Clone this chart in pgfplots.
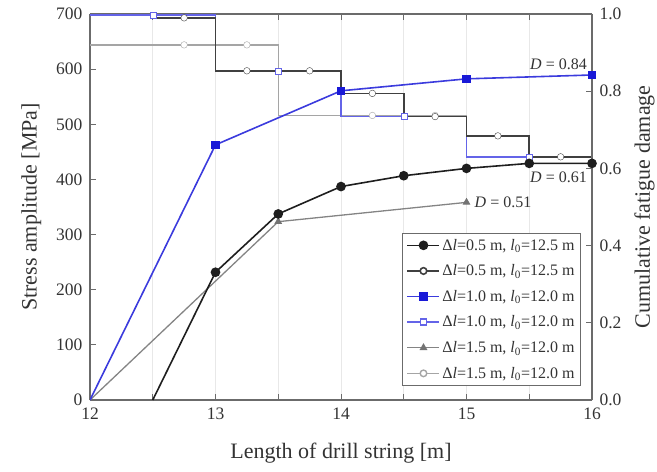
\documentclass[border=0pt]{standalone}
\usepackage{pgfplots}
\pgfplotsset{compat=1.18}
\usepackage{fontspec}
\setmainfont{Liberation Serif}

\definecolor{frame}{gray}{0.42}
\definecolor{dblue}{RGB}{25,25,215}
\definecolor{lblue}{RGB}{100,100,232}
\definecolor{dgrey}{RGB}{115,115,115}
\definecolor{lgrey}{RGB}{165,165,165}
\definecolor{dark}{RGB}{30,30,30}

\pgfplotsset{
  common/.style={
    width=502pt, height=386pt, scale only axis,
    xmin=12, xmax=16,
    tick align=inside,
    major tick length=6pt, minor tick length=6pt,
    axis line style={frame, line width=1.1pt},
    every tick/.style={frame, line width=0.9pt},
    tick label style={font=\fontsize{17.5}{20}\selectfont, text=black!80},
    label style={font=\fontsize{22}{24}\selectfont, text=black!80},
    /pgf/number format/assume math mode=true,
  },
  legend image code/.code={
    \draw[mark repeat=2, mark phase=2, #1] plot coordinates {(0pt,0pt) (16pt,0pt) (32pt,0pt)};
  },
}

\begin{document}
\begin{tikzpicture}
% stress amplitude (left axis): step curves
\begin{axis}[common, name=ax,
  ymin=0, ymax=700, ytick={0,100,...,700},
  axis y line*=left,
  xtick={12,13,14,15,16}, minor x tick num=1,
  xmajorgrids, xminorgrids,
  major grid style={black!9, line width=0.8pt},
  minor grid style={black!9, line width=0.8pt},
  yticklabel style={xshift=-4pt},
  xticklabel style={yshift=-4pt},
  xlabel={Length of drill string [m]},
  ylabel={Stress amplitude [MPa]},
  xlabel shift=17pt, ylabel shift=8pt,
]
% dl=1.5, l0=12.0
\addplot[const plot, lgrey, line width=1.4pt, forget plot]
  coordinates {(12,644) (13.5,516) (15,516)};
\addplot[only marks, mark=*, mark size=3.3pt, draw=lgrey, fill=white, forget plot]
  coordinates {(12.75,644) (13.25,644) (14.25,516) (14.75,516)};
% dl=1.0, l0=12.0
\addplot[const plot, lblue, line width=1.8pt, forget plot]
  coordinates {(12,698) (13,597) (14,514) (15,441) (16,441)};
% dl=0.5, l0=12.5
\addplot[const plot, dark!85, line width=1.6pt, forget plot]
  coordinates {(12.5,693) (13,597) (14,556) (14.5,514) (15,479) (15.5,441) (16,441)};
\addplot[only marks, mark=*, mark size=3.3pt, draw=dark!85, fill=white, forget plot]
  coordinates {(12.75,693) (13.25,597) (13.75,597) (14.25,556) (14.75,514) (15.25,479) (15.75,441)};
\addplot[only marks, mark=square*, mark size=3pt, draw=lblue, fill=white, forget plot]
  coordinates {(12.5,698) (13.5,597) (14.5,514) (15.5,441)};
\end{axis}

% cumulative fatigue damage (right axis)
\begin{axis}[common,
  ymin=0, ymax=1, ytick={0,0.2,0.4,0.6,0.8,1},
  axis y line*=right, axis x line=none,
  yticklabel style={xshift=4pt, /pgf/number format/.cd, fixed, fixed zerofill, precision=1},
  ylabel={Cumulative fatigue damage},
  ylabel shift=6pt,
  legend cell align=left,
  legend style={at={(0.978,0.036)}, anchor=south east, draw=frame, fill=white,
    line width=0.9pt, font=\fontsize{16}{18}\selectfont, text=black!80,
    row sep=9pt, inner sep=4pt},
]
\addplot[lgrey!80!black, line width=1.3pt, mark=triangle*, mark size=3.3pt,
  mark options={fill=dgrey, draw=dgrey}, mark indices={2,3}, forget plot]
  coordinates {(12,0) (13.5,0.462) (15,0.512)};
\addplot[dark, line width=1.6pt, mark=*, mark size=4pt, mark indices={2,3,4,5,6,7,8}, forget plot]
  coordinates {(12.5,0) (13,0.331) (13.5,0.482) (14,0.553) (14.5,0.581) (15,0.600) (15.5,0.613) (16,0.613)};
\addplot[dblue!85, line width=1.6pt, mark=square*, mark size=3.4pt,
  mark options={fill=dblue, draw=dblue}, mark indices={2,3,4,5}, forget plot]
  coordinates {(12,0) (13,0.661) (14,0.801) (15,0.832) (16,0.842)};

\node[anchor=south east, font=\fontsize{16}{18}\selectfont, text=black!80, inner sep=1pt]
  at (axis cs:16,0.842) [xshift=-4pt, yshift=4pt] {\textit{D} = 0.84};
\node[anchor=north east, font=\fontsize{16}{18}\selectfont, text=black!80, inner sep=1pt]
  at (axis cs:16,0.613) [xshift=-4pt, yshift=-7pt] {\textit{D} = 0.61};
\node[anchor=west, font=\fontsize{16}{18}\selectfont, text=black!80, inner sep=1pt]
  at (axis cs:15,0.512) [xshift=7pt] {\textit{D} = 0.51};

\addlegendimage{dark, line width=1.6pt, mark=*, mark size=4pt}
\addlegendentry{Δ\textit{l}=0.5 m, \textit{l}\textsubscript{0}=12.5 m}
\addlegendimage{dark!85, line width=1.6pt, mark=*, mark size=3.3pt, mark options={fill=white}}
\addlegendentry{Δ\textit{l}=0.5 m, \textit{l}\textsubscript{0}=12.5 m}
\addlegendimage{dblue!85, line width=1.6pt, mark=square*, mark size=3.4pt, mark options={fill=dblue, draw=dblue}}
\addlegendentry{Δ\textit{l}=1.0 m, \textit{l}\textsubscript{0}=12.0 m}
\addlegendimage{lblue, line width=1.6pt, mark=square*, mark size=3pt, mark options={fill=white}}
\addlegendentry{Δ\textit{l}=1.0 m, \textit{l}\textsubscript{0}=12.0 m}
\addlegendimage{lgrey!80!black, line width=1.3pt, mark=triangle*, mark size=3.3pt, mark options={fill=dgrey, draw=dgrey}}
\addlegendentry{Δ\textit{l}=1.5 m, \textit{l}\textsubscript{0}=12.0 m}
\addlegendimage{lgrey, line width=1.4pt, mark=*, mark size=3.3pt, mark options={fill=white}}
\addlegendentry{Δ\textit{l}=1.5 m, \textit{l}\textsubscript{0}=12.0 m}
\end{axis}

\pgfresetboundingbox
\path[use as bounding box] ([shift={(-90pt,-71pt)}]ax.south west) rectangle ([shift={(65pt,14pt)}]ax.north east);
\end{tikzpicture}
\end{document}
